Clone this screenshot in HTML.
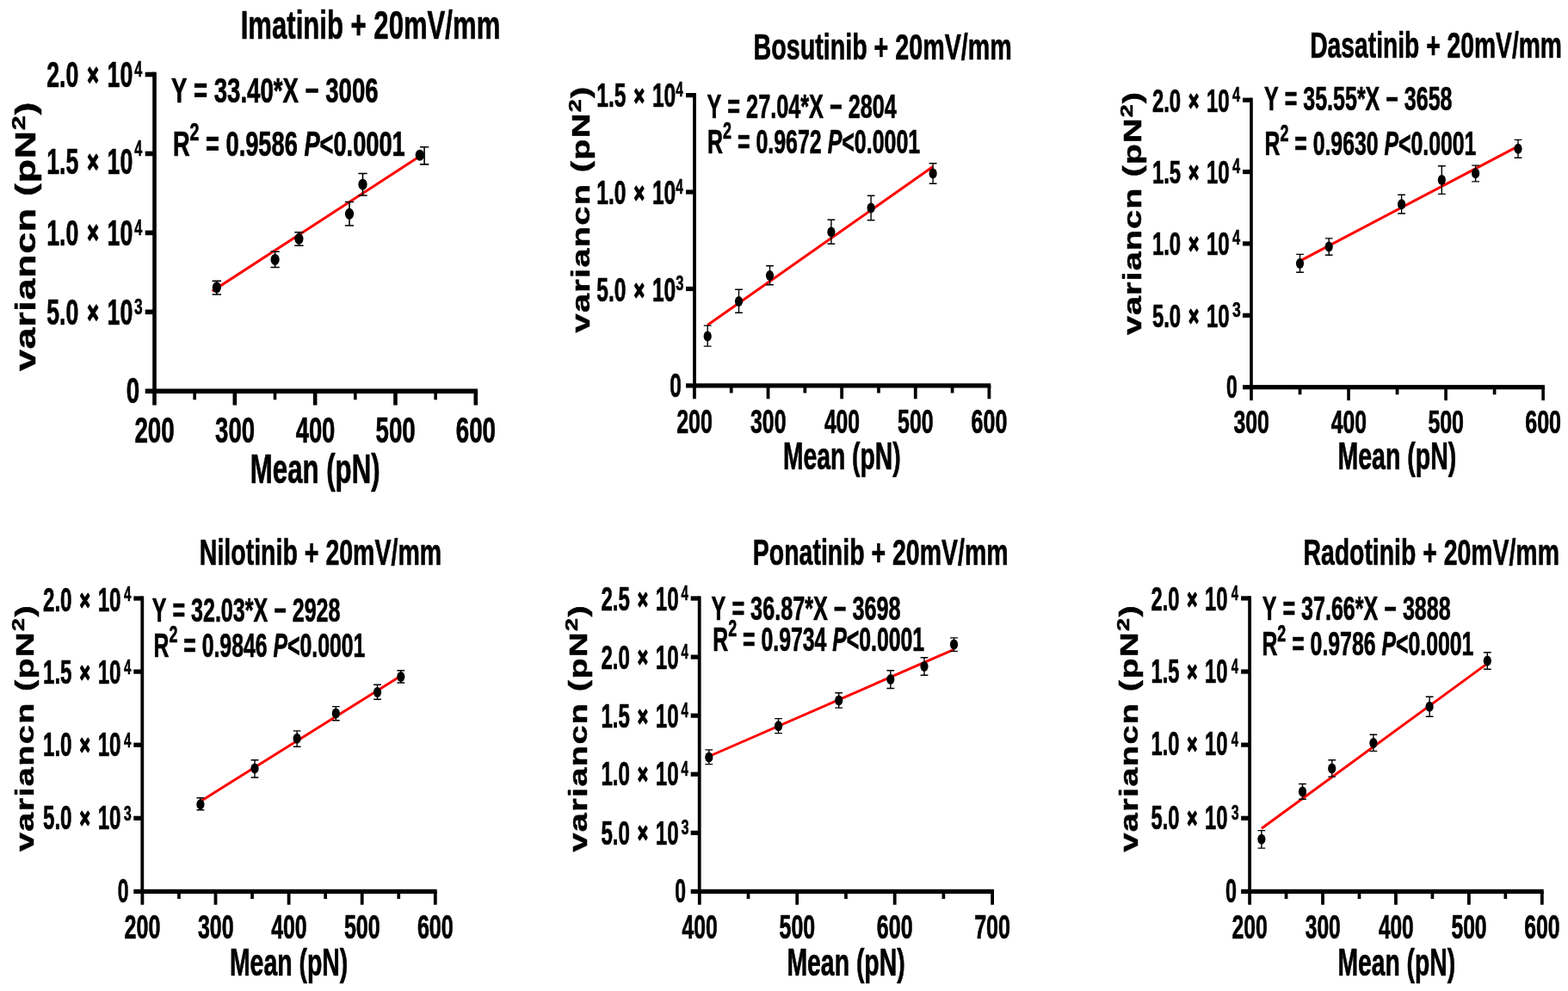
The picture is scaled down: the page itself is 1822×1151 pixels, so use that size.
<!DOCTYPE html>
<html lang="en"><head><meta charset="utf-8"><title>Mean-variance plots</title>
<style>
html,body{margin:0;padding:0;background:#fff;}
body{width:1822px;height:1151px;overflow:hidden;}
svg{display:block;}
text{font-family:"Liberation Sans",Arial,Helvetica,sans-serif;font-weight:bold;fill:#000;font-kerning:none;white-space:pre;stroke-linejoin:round;}
</style></head><body>
<svg width="1822" height="1151" viewBox="0 0 1822 1151">
<rect x="0" y="0" width="1822" height="1151" fill="#fff"/>
<g>
<!-- Imatinib + 20mV/mm -->
<line x1="246.60" y1="338.20" x2="488.50" y2="181.00" stroke="#f00" stroke-width="3.00"/>
<path d="M246.60 326.40H257.00M246.60 342.00H257.00M251.80 326.40V342.00" stroke="#000" stroke-width="1.60" fill="none"/>
<ellipse cx="251.80" cy="333.80" rx="5.10" ry="6.50" fill="#000"/>
<path d="M314.40 292.30H324.80M314.40 310.50H324.80M319.60 292.30V310.50" stroke="#000" stroke-width="1.60" fill="none"/>
<ellipse cx="319.60" cy="301.40" rx="5.10" ry="6.50" fill="#000"/>
<path d="M342.20 269.80H352.60M342.20 285.30H352.60M347.40 269.80V285.30" stroke="#000" stroke-width="1.60" fill="none"/>
<ellipse cx="347.40" cy="277.30" rx="5.10" ry="6.50" fill="#000"/>
<path d="M400.80 234.50H411.20M400.80 262.00H411.20M406.00 234.50V262.00" stroke="#000" stroke-width="1.60" fill="none"/>
<ellipse cx="406.00" cy="248.30" rx="5.10" ry="6.50" fill="#000"/>
<path d="M416.30 201.50H426.70M416.30 227.00H426.70M421.50 201.50V227.00" stroke="#000" stroke-width="1.60" fill="none"/>
<ellipse cx="421.50" cy="214.20" rx="5.10" ry="6.50" fill="#000"/>
<path d="M487.90 170.80H498.30M487.90 190.90H498.30M493.10 170.80V190.90" stroke="#000" stroke-width="1.60" fill="none"/>
<ellipse cx="487.80" cy="180.20" rx="5.10" ry="6.50" fill="#000"/>
<rect x="177.20" y="83.70" width="4.60" height="373.40" fill="#000"/>
<rect x="168.70" y="451.50" width="386.40" height="5.60" fill="#000"/>
<rect x="168.70" y="83.70" width="10.80" height="5.60" fill="#000"/>
<rect x="168.70" y="175.65" width="10.80" height="5.60" fill="#000"/>
<rect x="168.70" y="267.60" width="10.80" height="5.60" fill="#000"/>
<rect x="168.70" y="359.55" width="10.80" height="5.60" fill="#000"/>
<rect x="177.20" y="454.30" width="4.60" height="16.30" fill="#000"/>
<rect x="270.52" y="454.30" width="4.60" height="16.30" fill="#000"/>
<rect x="363.85" y="454.30" width="4.60" height="16.30" fill="#000"/>
<rect x="457.17" y="454.30" width="4.60" height="16.30" fill="#000"/>
<rect x="550.50" y="454.30" width="4.60" height="16.30" fill="#000"/>
<rect x="224.36" y="454.30" width="3.60" height="10.00" fill="#000"/>
<rect x="317.69" y="454.30" width="3.60" height="10.00" fill="#000"/>
<rect x="411.01" y="454.30" width="3.60" height="10.00" fill="#000"/>
<rect x="504.34" y="454.30" width="3.60" height="10.00" fill="#000"/>
<text transform="translate(156.45,513.83) scale(0.6590,1)" font-size="42.09" stroke="#000" stroke-width="0.70">200</text>
<text transform="translate(250.10,513.83) scale(0.6542,1)" font-size="42.09" stroke="#000" stroke-width="0.70">300</text>
<text transform="translate(343.65,513.83) scale(0.6510,1)" font-size="42.09" stroke="#000" stroke-width="0.70">400</text>
<text transform="translate(436.53,513.83) scale(0.6574,1)" font-size="42.09" stroke="#000" stroke-width="0.70">500</text>
<text transform="translate(529.69,513.83) scale(0.6598,1)" font-size="42.09" stroke="#000" stroke-width="0.70">600</text>
<text transform="translate(54.29,100.88) scale(0.6338,1)" font-size="42.09" word-spacing="4.209" stroke="#000" stroke-width="0.70"><tspan>2.0 </tspan><tspan stroke-width="2.1" font-size="35.36" dy="-2.31">×</tspan><tspan dy="2.31"> 10</tspan></text>
<text transform="translate(156.22,89.22) scale(0.6111,1)" font-size="26.47" stroke="#000" stroke-width="0.56">4</text>
<text transform="translate(54.29,202.48) scale(0.6338,1)" font-size="42.09" word-spacing="4.209" stroke="#000" stroke-width="0.70"><tspan>1.5 </tspan><tspan stroke-width="2.1" font-size="35.36" dy="-2.31">×</tspan><tspan dy="2.31"> 10</tspan></text>
<text transform="translate(156.22,181.17) scale(0.6111,1)" font-size="26.47" stroke="#000" stroke-width="0.56">4</text>
<text transform="translate(54.29,284.68) scale(0.6338,1)" font-size="42.09" word-spacing="4.209" stroke="#000" stroke-width="0.70"><tspan>1.0 </tspan><tspan stroke-width="2.1" font-size="35.36" dy="-2.31">×</tspan><tspan dy="2.31"> 10</tspan></text>
<text transform="translate(156.22,273.12) scale(0.6111,1)" font-size="26.47" stroke="#000" stroke-width="0.56">4</text>
<text transform="translate(54.29,376.98) scale(0.6338,1)" font-size="42.09" word-spacing="4.209" stroke="#000" stroke-width="0.70"><tspan>5.0 </tspan><tspan stroke-width="2.1" font-size="35.36" dy="-2.31">×</tspan><tspan dy="2.31"> 10</tspan></text>
<text transform="translate(156.07,365.07) scale(0.6585,1)" font-size="26.47" stroke="#000" stroke-width="0.56">3</text>
<text transform="translate(146.81,468.48) scale(0.6584,1)" font-size="42.09" stroke="#000" stroke-width="0.70">0</text>
<text transform="translate(290.82,560.65) scale(0.6546,1)" font-size="47.67" stroke="#000" stroke-width="0.70">Mean (pN)</text>
<text transform="translate(279.73,44.55) scale(0.6647,1)" font-size="46.80" stroke="#000" stroke-width="0.70">Imatinib + 20mV/mm</text>
<text transform="translate(198.94,119.35) scale(0.6755,1)" font-size="40.84" stroke="#000" stroke-width="0.70">Y = 33.40*X − 3006</text>
<text transform="translate(200.89,180.55) scale(0.6671,1)" font-size="40.84" stroke="#000" stroke-width="0.70"><tspan>R</tspan><tspan font-size="29.41" dy="-17.56">2</tspan><tspan dy="17.56"> = 0.9586 </tspan><tspan font-style="italic">P</tspan><tspan>&lt;0.0001</tspan></text>
<text transform="translate(41.20,431.02) rotate(-90) scale(1.3600,1)" font-size="32.85" letter-spacing="0.567" stroke="#000" stroke-width="0.50"><tspan>variancn (pN</tspan><tspan font-size="22.34" dy="-11.83">2</tspan><tspan dy="11.83">)</tspan></text>
</g>
<g>
<!-- Bosutinib + 20mV/mm -->
<line x1="822.20" y1="377.60" x2="1084.10" y2="193.50" stroke="#f00" stroke-width="3.00"/>
<path d="M817.80 378.10H826.60M817.80 402.10H826.60M822.20 378.10V402.10" stroke="#000" stroke-width="1.40" fill="none"/>
<ellipse cx="822.20" cy="390.60" rx="4.60" ry="6.00" fill="#000"/>
<path d="M854.10 336.30H862.90M854.10 363.30H862.90M858.50 336.30V363.30" stroke="#000" stroke-width="1.40" fill="none"/>
<ellipse cx="858.50" cy="350.10" rx="4.60" ry="6.00" fill="#000"/>
<path d="M890.10 308.80H898.90M890.10 330.80H898.90M894.50 308.80V330.80" stroke="#000" stroke-width="1.40" fill="none"/>
<ellipse cx="894.50" cy="320.00" rx="4.60" ry="6.00" fill="#000"/>
<path d="M961.50 255.30H970.30M961.50 283.30H970.30M965.90 255.30V283.30" stroke="#000" stroke-width="1.40" fill="none"/>
<ellipse cx="965.90" cy="269.50" rx="4.60" ry="6.00" fill="#000"/>
<path d="M1007.70 227.20H1016.50M1007.70 255.80H1016.50M1012.10 227.20V255.80" stroke="#000" stroke-width="1.40" fill="none"/>
<ellipse cx="1012.10" cy="241.60" rx="4.60" ry="6.00" fill="#000"/>
<path d="M1079.70 189.70H1088.50M1079.70 213.20H1088.50M1084.10 189.70V213.20" stroke="#000" stroke-width="1.40" fill="none"/>
<ellipse cx="1084.10" cy="201.50" rx="4.60" ry="6.00" fill="#000"/>
<rect x="805.10" y="108.00" width="3.80" height="342.50" fill="#000"/>
<rect x="797.00" y="445.30" width="354.30" height="5.20" fill="#000"/>
<rect x="797.00" y="108.00" width="10.00" height="5.20" fill="#000"/>
<rect x="797.00" y="220.43" width="10.00" height="5.20" fill="#000"/>
<rect x="797.00" y="332.87" width="10.00" height="5.20" fill="#000"/>
<rect x="805.00" y="447.90" width="3.80" height="15.40" fill="#000"/>
<rect x="890.62" y="447.90" width="3.80" height="15.40" fill="#000"/>
<rect x="976.25" y="447.90" width="3.80" height="15.40" fill="#000"/>
<rect x="1061.88" y="447.90" width="3.80" height="15.40" fill="#000"/>
<rect x="1147.50" y="447.90" width="3.80" height="15.40" fill="#000"/>
<rect x="847.86" y="447.90" width="3.70" height="8.60" fill="#000"/>
<rect x="933.49" y="447.90" width="3.70" height="8.60" fill="#000"/>
<rect x="1019.11" y="447.90" width="3.70" height="8.60" fill="#000"/>
<rect x="1104.74" y="447.90" width="3.70" height="8.60" fill="#000"/>
<text transform="translate(786.14,502.57) scale(0.6525,1)" font-size="38.28" stroke="#000" stroke-width="0.70">200</text>
<text transform="translate(872.07,502.57) scale(0.6477,1)" font-size="38.28" stroke="#000" stroke-width="0.70">300</text>
<text transform="translate(957.89,502.57) scale(0.6446,1)" font-size="38.28" stroke="#000" stroke-width="0.70">400</text>
<text transform="translate(1043.12,502.57) scale(0.6509,1)" font-size="38.28" stroke="#000" stroke-width="0.70">500</text>
<text transform="translate(1128.59,502.57) scale(0.6533,1)" font-size="38.28" stroke="#000" stroke-width="0.70">600</text>
<text transform="translate(693.25,124.47) scale(0.6415,1)" font-size="38.28" word-spacing="3.828" stroke="#000" stroke-width="0.70"><tspan>1.5 </tspan><tspan stroke-width="2.1" font-size="32.15" dy="-2.11">×</tspan><tspan dy="2.11"> 10</tspan></text>
<text transform="translate(785.33,112.32) scale(0.6410,1)" font-size="24.07" stroke="#000" stroke-width="0.56">4</text>
<text transform="translate(693.25,237.47) scale(0.6415,1)" font-size="38.28" word-spacing="3.828" stroke="#000" stroke-width="0.70"><tspan>1.0 </tspan><tspan stroke-width="2.1" font-size="32.15" dy="-2.11">×</tspan><tspan dy="2.11"> 10</tspan></text>
<text transform="translate(785.33,224.75) scale(0.6410,1)" font-size="24.07" stroke="#000" stroke-width="0.56">4</text>
<text transform="translate(693.25,349.87) scale(0.6415,1)" font-size="38.28" word-spacing="3.828" stroke="#000" stroke-width="0.70"><tspan>5.0 </tspan><tspan stroke-width="2.1" font-size="32.15" dy="-2.11">×</tspan><tspan dy="2.11"> 10</tspan></text>
<text transform="translate(785.19,337.19) scale(0.6908,1)" font-size="24.07" stroke="#000" stroke-width="0.56">3</text>
<text transform="translate(778.15,461.17) scale(0.6361,1)" font-size="38.28" stroke="#000" stroke-width="0.70">0</text>
<text transform="translate(909.92,544.95) scale(0.6507,1)" font-size="43.46" stroke="#000" stroke-width="0.70">Mean (pN)</text>
<text transform="translate(875.49,68.65) scale(0.6686,1)" font-size="42.88" stroke="#000" stroke-width="0.70">Bosutinib + 20mV/mm</text>
<text transform="translate(821.48,137.15) scale(0.6507,1)" font-size="38.81" stroke="#000" stroke-width="0.70">Y = 27.04*X − 2804</text>
<text transform="translate(822.04,177.85) scale(0.6427,1)" font-size="38.81" stroke="#000" stroke-width="0.70"><tspan>R</tspan><tspan font-size="27.94" dy="-16.69">2</tspan><tspan dy="16.69"> = 0.9672 </tspan><tspan font-style="italic">P</tspan><tspan>&lt;0.0001</tspan></text>
<text transform="translate(685.40,386.40) rotate(-90) scale(1.3600,1)" font-size="29.07" letter-spacing="1.020" stroke="#000" stroke-width="0.50"><tspan>variancn (pN</tspan><tspan font-size="19.77" dy="-10.47">2</tspan><tspan dy="10.47">)</tspan></text>
</g>
<g>
<!-- Dasatinib + 20mV/mm -->
<line x1="1510.50" y1="303.10" x2="1764.00" y2="169.80" stroke="#f00" stroke-width="3.00"/>
<path d="M1506.10 295.40H1514.90M1506.10 316.20H1514.90M1510.50 295.40V316.20" stroke="#000" stroke-width="1.40" fill="none"/>
<ellipse cx="1510.50" cy="306.10" rx="4.60" ry="6.00" fill="#000"/>
<path d="M1539.80 276.90H1548.60M1539.80 296.20H1548.60M1544.20 276.90V296.20" stroke="#000" stroke-width="1.40" fill="none"/>
<ellipse cx="1544.20" cy="286.40" rx="4.60" ry="6.00" fill="#000"/>
<path d="M1624.20 226.30H1633.00M1624.20 248.00H1633.00M1628.60 226.30V248.00" stroke="#000" stroke-width="1.40" fill="none"/>
<ellipse cx="1628.60" cy="237.30" rx="4.60" ry="6.00" fill="#000"/>
<path d="M1670.90 192.70H1679.70M1670.90 225.40H1679.70M1675.30 192.70V225.40" stroke="#000" stroke-width="1.40" fill="none"/>
<ellipse cx="1675.30" cy="209.10" rx="4.60" ry="6.00" fill="#000"/>
<path d="M1710.20 192.10H1719.00M1710.20 210.90H1719.00M1714.60 192.10V210.90" stroke="#000" stroke-width="1.40" fill="none"/>
<ellipse cx="1714.60" cy="201.30" rx="4.60" ry="6.00" fill="#000"/>
<path d="M1759.60 162.40H1768.40M1759.60 183.20H1768.40M1764.00 162.40V183.20" stroke="#000" stroke-width="1.40" fill="none"/>
<ellipse cx="1764.00" cy="172.80" rx="4.60" ry="6.00" fill="#000"/>
<rect x="1452.20" y="113.60" width="3.60" height="338.70" fill="#000"/>
<rect x="1444.00" y="447.10" width="350.90" height="5.20" fill="#000"/>
<rect x="1444.00" y="113.60" width="10.00" height="5.20" fill="#000"/>
<rect x="1444.00" y="196.97" width="10.00" height="5.20" fill="#000"/>
<rect x="1444.00" y="280.35" width="10.00" height="5.20" fill="#000"/>
<rect x="1444.00" y="363.72" width="10.00" height="5.20" fill="#000"/>
<rect x="1452.20" y="449.70" width="3.60" height="15.40" fill="#000"/>
<rect x="1565.23" y="449.70" width="3.60" height="15.40" fill="#000"/>
<rect x="1678.27" y="449.70" width="3.60" height="15.40" fill="#000"/>
<rect x="1791.30" y="449.70" width="3.60" height="15.40" fill="#000"/>
<rect x="1508.67" y="449.70" width="3.70" height="8.60" fill="#000"/>
<rect x="1621.70" y="449.70" width="3.70" height="8.60" fill="#000"/>
<rect x="1734.73" y="449.70" width="3.70" height="8.60" fill="#000"/>
<text transform="translate(1433.54,502.98) scale(0.6674,1)" font-size="37.15" stroke="#000" stroke-width="0.70">300</text>
<text transform="translate(1546.77,502.98) scale(0.6642,1)" font-size="37.15" stroke="#000" stroke-width="0.70">400</text>
<text transform="translate(1659.41,502.98) scale(0.6707,1)" font-size="37.15" stroke="#000" stroke-width="0.70">500</text>
<text transform="translate(1772.29,502.98) scale(0.6732,1)" font-size="37.15" stroke="#000" stroke-width="0.70">600</text>
<text transform="translate(1338.88,129.78) scale(0.6441,1)" font-size="37.15" word-spacing="3.715" stroke="#000" stroke-width="0.70"><tspan>2.0 </tspan><tspan stroke-width="2.1" font-size="31.20" dy="-2.04">×</tspan><tspan dy="2.04"> 10</tspan></text>
<text transform="translate(1432.12,117.72) scale(0.6798,1)" font-size="24.07" stroke="#000" stroke-width="0.56">4</text>
<text transform="translate(1338.88,213.08) scale(0.6441,1)" font-size="37.15" word-spacing="3.715" stroke="#000" stroke-width="0.70"><tspan>1.5 </tspan><tspan stroke-width="2.1" font-size="31.20" dy="-2.04">×</tspan><tspan dy="2.04"> 10</tspan></text>
<text transform="translate(1432.12,201.09) scale(0.6798,1)" font-size="24.07" stroke="#000" stroke-width="0.56">4</text>
<text transform="translate(1338.88,296.28) scale(0.6441,1)" font-size="37.15" word-spacing="3.715" stroke="#000" stroke-width="0.70"><tspan>1.0 </tspan><tspan stroke-width="2.1" font-size="31.20" dy="-2.04">×</tspan><tspan dy="2.04"> 10</tspan></text>
<text transform="translate(1432.12,284.47) scale(0.6798,1)" font-size="24.07" stroke="#000" stroke-width="0.56">4</text>
<text transform="translate(1338.88,379.78) scale(0.6441,1)" font-size="37.15" word-spacing="3.715" stroke="#000" stroke-width="0.70"><tspan>5.0 </tspan><tspan stroke-width="2.1" font-size="31.20" dy="-2.04">×</tspan><tspan dy="2.04"> 10</tspan></text>
<text transform="translate(1431.96,367.85) scale(0.7326,1)" font-size="24.07" stroke="#000" stroke-width="0.56">3</text>
<text transform="translate(1425.11,462.18) scale(0.6159,1)" font-size="37.15" stroke="#000" stroke-width="0.70">0</text>
<text transform="translate(1554.40,544.95) scale(0.6566,1)" font-size="43.46" stroke="#000" stroke-width="0.70">Mean (pN)</text>
<text transform="translate(1522.22,67.35) scale(0.6589,1)" font-size="42.88" stroke="#000" stroke-width="0.70">Dasatinib + 20mV/mm</text>
<text transform="translate(1469.08,127.85) scale(0.6449,1)" font-size="38.81" stroke="#000" stroke-width="0.70">Y = 35.55*X − 3658</text>
<text transform="translate(1469.55,180.45) scale(0.6393,1)" font-size="38.81" stroke="#000" stroke-width="0.70"><tspan>R</tspan><tspan font-size="27.94" dy="-16.69">2</tspan><tspan dy="16.69"> = 0.9630 </tspan><tspan font-style="italic">P</tspan><tspan>&lt;0.0001</tspan></text>
<text transform="translate(1326.30,389.10) rotate(-90) scale(1.3600,1)" font-size="29.07" letter-spacing="0.822" stroke="#000" stroke-width="0.50"><tspan>variancn (pN</tspan><tspan font-size="19.77" dy="-10.47">2</tspan><tspan dy="10.47">)</tspan></text>
</g>
<g>
<!-- Nilotinib + 20mV/mm -->
<line x1="232.90" y1="930.70" x2="465.80" y2="784.90" stroke="#f00" stroke-width="3.00"/>
<path d="M228.50 926.80H237.30M228.50 940.80H237.30M232.90 926.80V940.80" stroke="#000" stroke-width="1.40" fill="none"/>
<ellipse cx="232.90" cy="934.20" rx="4.60" ry="6.00" fill="#000"/>
<path d="M291.60 882.80H300.40M291.60 903.00H300.40M296.00 882.80V903.00" stroke="#000" stroke-width="1.40" fill="none"/>
<ellipse cx="296.00" cy="892.60" rx="4.60" ry="6.00" fill="#000"/>
<path d="M340.70 848.90H349.50M340.70 867.30H349.50M345.10 848.90V867.30" stroke="#000" stroke-width="1.40" fill="none"/>
<ellipse cx="345.10" cy="857.80" rx="4.60" ry="6.00" fill="#000"/>
<path d="M385.90 820.60H394.70M385.90 836.70H394.70M390.30 820.60V836.70" stroke="#000" stroke-width="1.40" fill="none"/>
<ellipse cx="390.30" cy="828.60" rx="4.60" ry="6.00" fill="#000"/>
<path d="M434.10 795.30H442.90M434.10 812.30H442.90M438.50 795.30V812.30" stroke="#000" stroke-width="1.40" fill="none"/>
<ellipse cx="438.50" cy="804.00" rx="4.60" ry="6.00" fill="#000"/>
<path d="M461.40 778.70H470.20M461.40 793.00H470.20M465.80 778.70V793.00" stroke="#000" stroke-width="1.40" fill="none"/>
<ellipse cx="465.80" cy="786.10" rx="4.60" ry="6.00" fill="#000"/>
<rect x="163.40" y="692.40" width="3.80" height="345.60" fill="#000"/>
<rect x="155.30" y="1032.80" width="352.40" height="5.20" fill="#000"/>
<rect x="155.30" y="692.40" width="10.00" height="5.20" fill="#000"/>
<rect x="155.30" y="777.50" width="10.00" height="5.20" fill="#000"/>
<rect x="155.30" y="862.60" width="10.00" height="5.20" fill="#000"/>
<rect x="155.30" y="947.70" width="10.00" height="5.20" fill="#000"/>
<rect x="163.50" y="1035.40" width="3.80" height="15.40" fill="#000"/>
<rect x="248.60" y="1035.40" width="3.80" height="15.40" fill="#000"/>
<rect x="333.70" y="1035.40" width="3.80" height="15.40" fill="#000"/>
<rect x="418.80" y="1035.40" width="3.80" height="15.40" fill="#000"/>
<rect x="503.90" y="1035.40" width="3.80" height="15.40" fill="#000"/>
<rect x="206.10" y="1035.40" width="3.70" height="8.60" fill="#000"/>
<rect x="291.20" y="1035.40" width="3.70" height="8.60" fill="#000"/>
<rect x="376.30" y="1035.40" width="3.70" height="8.60" fill="#000"/>
<rect x="461.40" y="1035.40" width="3.70" height="8.60" fill="#000"/>
<text transform="translate(144.54,1089.97) scale(0.6558,1)" font-size="38.28" stroke="#000" stroke-width="0.70">200</text>
<text transform="translate(229.94,1089.97) scale(0.6510,1)" font-size="38.28" stroke="#000" stroke-width="0.70">300</text>
<text transform="translate(315.23,1089.97) scale(0.6478,1)" font-size="38.28" stroke="#000" stroke-width="0.70">400</text>
<text transform="translate(399.94,1089.97) scale(0.6542,1)" font-size="38.28" stroke="#000" stroke-width="0.70">500</text>
<text transform="translate(484.89,1089.97) scale(0.6566,1)" font-size="38.28" stroke="#000" stroke-width="0.70">600</text>
<text transform="translate(49.97,709.77) scale(0.6315,1)" font-size="38.28" word-spacing="3.828" stroke="#000" stroke-width="0.70"><tspan>2.0 </tspan><tspan stroke-width="2.1" font-size="32.15" dy="-2.11">×</tspan><tspan dy="2.11"> 10</tspan></text>
<text transform="translate(143.94,697.72) scale(0.6255,1)" font-size="24.07" stroke="#000" stroke-width="0.56">4</text>
<text transform="translate(49.97,793.77) scale(0.6315,1)" font-size="38.28" word-spacing="3.828" stroke="#000" stroke-width="0.70"><tspan>1.5 </tspan><tspan stroke-width="2.1" font-size="32.15" dy="-2.11">×</tspan><tspan dy="2.11"> 10</tspan></text>
<text transform="translate(143.94,782.82) scale(0.6255,1)" font-size="24.07" stroke="#000" stroke-width="0.56">4</text>
<text transform="translate(49.97,877.67) scale(0.6315,1)" font-size="38.28" word-spacing="3.828" stroke="#000" stroke-width="0.70"><tspan>1.0 </tspan><tspan stroke-width="2.1" font-size="32.15" dy="-2.11">×</tspan><tspan dy="2.11"> 10</tspan></text>
<text transform="translate(143.94,867.92) scale(0.6255,1)" font-size="24.07" stroke="#000" stroke-width="0.56">4</text>
<text transform="translate(49.97,963.17) scale(0.6315,1)" font-size="38.28" word-spacing="3.828" stroke="#000" stroke-width="0.70"><tspan>5.0 </tspan><tspan stroke-width="2.1" font-size="32.15" dy="-2.11">×</tspan><tspan dy="2.11"> 10</tspan></text>
<text transform="translate(143.80,953.02) scale(0.6741,1)" font-size="24.07" stroke="#000" stroke-width="0.56">3</text>
<text transform="translate(136.71,1048.37) scale(0.5977,1)" font-size="38.28" stroke="#000" stroke-width="0.70">0</text>
<text transform="translate(266.91,1133.45) scale(0.6542,1)" font-size="43.46" stroke="#000" stroke-width="0.70">Mean (pN)</text>
<text transform="translate(231.80,656.05) scale(0.6655,1)" font-size="42.88" stroke="#000" stroke-width="0.70">Nilotinib + 20mV/mm</text>
<text transform="translate(176.78,722.25) scale(0.6458,1)" font-size="38.81" stroke="#000" stroke-width="0.70">Y = 32.03*X − 2928</text>
<text transform="translate(178.55,762.65) scale(0.6393,1)" font-size="38.81" stroke="#000" stroke-width="0.70"><tspan>R</tspan><tspan font-size="27.94" dy="-16.69">2</tspan><tspan dy="16.69"> = 0.9846 </tspan><tspan font-style="italic">P</tspan><tspan>&lt;0.0001</tspan></text>
<text transform="translate(38.70,989.00) rotate(-90) scale(1.3600,1)" font-size="29.07" letter-spacing="1.020" stroke="#000" stroke-width="0.50"><tspan>variancn (pN</tspan><tspan font-size="19.77" dy="-10.47">2</tspan><tspan dy="10.47">)</tspan></text>
</g>
<g>
<!-- Ponatinib + 20mV/mm -->
<line x1="823.80" y1="878.50" x2="1108.50" y2="754.30" stroke="#f00" stroke-width="3.00"/>
<path d="M819.40 870.90H828.20M819.40 887.60H828.20M823.80 870.90V887.60" stroke="#000" stroke-width="1.40" fill="none"/>
<ellipse cx="823.80" cy="879.50" rx="4.60" ry="6.00" fill="#000"/>
<path d="M900.10 834.60H908.90M900.10 851.60H908.90M904.50 834.60V851.60" stroke="#000" stroke-width="1.40" fill="none"/>
<ellipse cx="904.50" cy="843.20" rx="4.60" ry="6.00" fill="#000"/>
<path d="M970.30 804.80H979.10M970.30 822.10H979.10M974.70 804.80V822.10" stroke="#000" stroke-width="1.40" fill="none"/>
<ellipse cx="974.70" cy="813.50" rx="4.60" ry="6.00" fill="#000"/>
<path d="M1030.40 778.70H1039.20M1030.40 799.50H1039.20M1034.80 778.70V799.50" stroke="#000" stroke-width="1.40" fill="none"/>
<ellipse cx="1034.80" cy="789.10" rx="4.60" ry="6.00" fill="#000"/>
<path d="M1069.60 763.80H1078.40M1069.60 784.30H1078.40M1074.00 763.80V784.30" stroke="#000" stroke-width="1.40" fill="none"/>
<ellipse cx="1074.00" cy="773.90" rx="4.60" ry="6.00" fill="#000"/>
<path d="M1104.10 740.90H1112.90M1104.10 756.40H1112.90M1108.50 740.90V756.40" stroke="#000" stroke-width="1.40" fill="none"/>
<ellipse cx="1108.50" cy="748.60" rx="4.60" ry="6.00" fill="#000"/>
<rect x="810.80" y="692.40" width="3.80" height="345.60" fill="#000"/>
<rect x="802.70" y="1032.80" width="352.30" height="5.20" fill="#000"/>
<rect x="802.70" y="692.40" width="10.00" height="5.20" fill="#000"/>
<rect x="802.70" y="760.48" width="10.00" height="5.20" fill="#000"/>
<rect x="802.70" y="828.56" width="10.00" height="5.20" fill="#000"/>
<rect x="802.70" y="896.64" width="10.00" height="5.20" fill="#000"/>
<rect x="802.70" y="964.72" width="10.00" height="5.20" fill="#000"/>
<rect x="810.90" y="1035.40" width="3.80" height="15.40" fill="#000"/>
<rect x="924.33" y="1035.40" width="3.80" height="15.40" fill="#000"/>
<rect x="1037.77" y="1035.40" width="3.80" height="15.40" fill="#000"/>
<rect x="1151.20" y="1035.40" width="3.80" height="15.40" fill="#000"/>
<rect x="867.67" y="1035.40" width="3.70" height="8.60" fill="#000"/>
<rect x="981.10" y="1035.40" width="3.70" height="8.60" fill="#000"/>
<rect x="1094.53" y="1035.40" width="3.70" height="8.60" fill="#000"/>
<text transform="translate(792.54,1089.97) scale(0.6446,1)" font-size="38.28" stroke="#000" stroke-width="0.70">400</text>
<text transform="translate(905.58,1089.97) scale(0.6509,1)" font-size="38.28" stroke="#000" stroke-width="0.70">500</text>
<text transform="translate(1018.86,1089.97) scale(0.6533,1)" font-size="38.28" stroke="#000" stroke-width="0.70">600</text>
<text transform="translate(1132.13,1089.97) scale(0.6559,1)" font-size="38.28" stroke="#000" stroke-width="0.70">700</text>
<text transform="translate(698.38,709.37) scale(0.6286,1)" font-size="38.28" word-spacing="3.828" stroke="#000" stroke-width="0.70"><tspan>2.5 </tspan><tspan stroke-width="2.1" font-size="32.15" dy="-2.11">×</tspan><tspan dy="2.11"> 10</tspan></text>
<text transform="translate(791.54,696.72) scale(0.6255,1)" font-size="24.07" stroke="#000" stroke-width="0.56">4</text>
<text transform="translate(698.38,776.57) scale(0.6286,1)" font-size="38.28" word-spacing="3.828" stroke="#000" stroke-width="0.70"><tspan>2.0 </tspan><tspan stroke-width="2.1" font-size="32.15" dy="-2.11">×</tspan><tspan dy="2.11"> 10</tspan></text>
<text transform="translate(791.54,764.80) scale(0.6255,1)" font-size="24.07" stroke="#000" stroke-width="0.56">4</text>
<text transform="translate(698.38,844.77) scale(0.6286,1)" font-size="38.28" word-spacing="3.828" stroke="#000" stroke-width="0.70"><tspan>1.5 </tspan><tspan stroke-width="2.1" font-size="32.15" dy="-2.11">×</tspan><tspan dy="2.11"> 10</tspan></text>
<text transform="translate(791.54,832.88) scale(0.6255,1)" font-size="24.07" stroke="#000" stroke-width="0.56">4</text>
<text transform="translate(698.38,912.17) scale(0.6286,1)" font-size="38.28" word-spacing="3.828" stroke="#000" stroke-width="0.70"><tspan>1.0 </tspan><tspan stroke-width="2.1" font-size="32.15" dy="-2.11">×</tspan><tspan dy="2.11"> 10</tspan></text>
<text transform="translate(791.54,900.96) scale(0.6255,1)" font-size="24.07" stroke="#000" stroke-width="0.56">4</text>
<text transform="translate(698.38,980.57) scale(0.6286,1)" font-size="38.28" word-spacing="3.828" stroke="#000" stroke-width="0.70"><tspan>5.0 </tspan><tspan stroke-width="2.1" font-size="32.15" dy="-2.11">×</tspan><tspan dy="2.11"> 10</tspan></text>
<text transform="translate(791.40,969.04) scale(0.6741,1)" font-size="24.07" stroke="#000" stroke-width="0.56">3</text>
<text transform="translate(784.21,1048.37) scale(0.5977,1)" font-size="38.28" stroke="#000" stroke-width="0.70">0</text>
<text transform="translate(914.41,1133.45) scale(0.6537,1)" font-size="43.46" stroke="#000" stroke-width="0.70">Mean (pN)</text>
<text transform="translate(874.80,655.55) scale(0.6645,1)" font-size="42.88" stroke="#000" stroke-width="0.70">Ponatinib + 20mV/mm</text>
<text transform="translate(826.58,720.35) scale(0.6497,1)" font-size="38.81" stroke="#000" stroke-width="0.70">Y = 36.87*X − 3698</text>
<text transform="translate(828.35,755.65) scale(0.6393,1)" font-size="38.81" stroke="#000" stroke-width="0.70"><tspan>R</tspan><tspan font-size="27.94" dy="-16.69">2</tspan><tspan dy="16.69"> = 0.9734 </tspan><tspan font-style="italic">P</tspan><tspan>&lt;0.0001</tspan></text>
<text transform="translate(681.80,989.60) rotate(-90) scale(1.3600,1)" font-size="29.07" letter-spacing="1.054" stroke="#000" stroke-width="0.50"><tspan>variancn (pN</tspan><tspan font-size="19.77" dy="-10.47">2</tspan><tspan dy="10.47">)</tspan></text>
</g>
<g>
<!-- Radotinib + 20mV/mm -->
<line x1="1465.90" y1="962.20" x2="1728.30" y2="770.60" stroke="#f00" stroke-width="3.00"/>
<path d="M1461.50 964.60H1470.30M1461.50 985.10H1470.30M1465.90 964.60V985.10" stroke="#000" stroke-width="1.40" fill="none"/>
<ellipse cx="1465.90" cy="974.70" rx="4.60" ry="6.00" fill="#000"/>
<path d="M1509.10 910.50H1517.90M1509.10 928.30H1517.90M1513.50 910.50V928.30" stroke="#000" stroke-width="1.40" fill="none"/>
<ellipse cx="1513.50" cy="919.50" rx="4.60" ry="6.00" fill="#000"/>
<path d="M1543.30 882.80H1552.10M1543.30 902.10H1552.10M1547.70 882.80V902.10" stroke="#000" stroke-width="1.40" fill="none"/>
<ellipse cx="1547.70" cy="892.60" rx="4.60" ry="6.00" fill="#000"/>
<path d="M1591.50 853.30H1600.30M1591.50 872.40H1600.30M1595.90 853.30V872.40" stroke="#000" stroke-width="1.40" fill="none"/>
<ellipse cx="1595.90" cy="862.90" rx="4.60" ry="6.00" fill="#000"/>
<path d="M1656.70 809.30H1665.50M1656.70 832.20H1665.50M1661.10 809.30V832.20" stroke="#000" stroke-width="1.40" fill="none"/>
<ellipse cx="1661.10" cy="820.70" rx="4.60" ry="6.00" fill="#000"/>
<path d="M1723.90 757.80H1732.70M1723.90 777.20H1732.70M1728.30 757.80V777.20" stroke="#000" stroke-width="1.40" fill="none"/>
<ellipse cx="1728.30" cy="767.40" rx="4.60" ry="6.00" fill="#000"/>
<rect x="1450.20" y="692.30" width="3.80" height="345.70" fill="#000"/>
<rect x="1442.10" y="1032.80" width="351.60" height="5.20" fill="#000"/>
<rect x="1442.10" y="692.30" width="10.00" height="5.20" fill="#000"/>
<rect x="1442.10" y="777.42" width="10.00" height="5.20" fill="#000"/>
<rect x="1442.10" y="862.55" width="10.00" height="5.20" fill="#000"/>
<rect x="1442.10" y="947.68" width="10.00" height="5.20" fill="#000"/>
<rect x="1450.20" y="1035.40" width="3.80" height="15.40" fill="#000"/>
<rect x="1535.12" y="1035.40" width="3.80" height="15.40" fill="#000"/>
<rect x="1620.05" y="1035.40" width="3.80" height="15.40" fill="#000"/>
<rect x="1704.97" y="1035.40" width="3.80" height="15.40" fill="#000"/>
<rect x="1789.90" y="1035.40" width="3.80" height="15.40" fill="#000"/>
<rect x="1492.71" y="1035.40" width="3.70" height="8.60" fill="#000"/>
<rect x="1577.64" y="1035.40" width="3.70" height="8.60" fill="#000"/>
<rect x="1662.56" y="1035.40" width="3.70" height="8.60" fill="#000"/>
<rect x="1747.49" y="1035.40" width="3.70" height="8.60" fill="#000"/>
<text transform="translate(1431.55,1089.97) scale(0.6459,1)" font-size="38.28" stroke="#000" stroke-width="0.70">200</text>
<text transform="translate(1516.77,1089.97) scale(0.6412,1)" font-size="38.28" stroke="#000" stroke-width="0.70">300</text>
<text transform="translate(1601.89,1089.97) scale(0.6381,1)" font-size="38.28" stroke="#000" stroke-width="0.70">400</text>
<text transform="translate(1686.43,1089.97) scale(0.6444,1)" font-size="38.28" stroke="#000" stroke-width="0.70">500</text>
<text transform="translate(1771.20,1089.97) scale(0.6467,1)" font-size="38.28" stroke="#000" stroke-width="0.70">600</text>
<text transform="translate(1337.49,708.77) scale(0.6208,1)" font-size="38.28" word-spacing="3.828" stroke="#000" stroke-width="0.70"><tspan>2.0 </tspan><tspan stroke-width="2.1" font-size="32.15" dy="-2.11">×</tspan><tspan dy="2.11"> 10</tspan></text>
<text transform="translate(1430.84,696.82) scale(0.6178,1)" font-size="24.07" stroke="#000" stroke-width="0.56">4</text>
<text transform="translate(1337.49,793.27) scale(0.6208,1)" font-size="38.28" word-spacing="3.828" stroke="#000" stroke-width="0.70"><tspan>1.5 </tspan><tspan stroke-width="2.1" font-size="32.15" dy="-2.11">×</tspan><tspan dy="2.11"> 10</tspan></text>
<text transform="translate(1430.84,781.95) scale(0.6178,1)" font-size="24.07" stroke="#000" stroke-width="0.56">4</text>
<text transform="translate(1337.49,877.47) scale(0.6208,1)" font-size="38.28" word-spacing="3.828" stroke="#000" stroke-width="0.70"><tspan>1.0 </tspan><tspan stroke-width="2.1" font-size="32.15" dy="-2.11">×</tspan><tspan dy="2.11"> 10</tspan></text>
<text transform="translate(1430.84,867.07) scale(0.6178,1)" font-size="24.07" stroke="#000" stroke-width="0.56">4</text>
<text transform="translate(1337.49,962.77) scale(0.6208,1)" font-size="38.28" word-spacing="3.828" stroke="#000" stroke-width="0.70"><tspan>5.0 </tspan><tspan stroke-width="2.1" font-size="32.15" dy="-2.11">×</tspan><tspan dy="2.11"> 10</tspan></text>
<text transform="translate(1430.70,952.20) scale(0.6657,1)" font-size="24.07" stroke="#000" stroke-width="0.56">3</text>
<text transform="translate(1424.09,1048.27) scale(0.6087,1)" font-size="38.28" stroke="#000" stroke-width="0.70">0</text>
<text transform="translate(1554.42,1133.45) scale(0.6507,1)" font-size="43.46" stroke="#000" stroke-width="0.70">Mean (pN)</text>
<text transform="translate(1514.41,655.55) scale(0.6625,1)" font-size="42.88" stroke="#000" stroke-width="0.70">Radotinib + 20mV/mm</text>
<text transform="translate(1466.68,720.25) scale(0.6467,1)" font-size="38.81" stroke="#000" stroke-width="0.70">Y = 37.66*X − 3888</text>
<text transform="translate(1466.45,761.25) scale(0.6396,1)" font-size="38.81" stroke="#000" stroke-width="0.70"><tspan>R</tspan><tspan font-size="27.94" dy="-16.69">2</tspan><tspan dy="16.69"> = 0.9786 </tspan><tspan font-style="italic">P</tspan><tspan>&lt;0.0001</tspan></text>
<text transform="translate(1322.40,989.60) rotate(-90) scale(1.3600,1)" font-size="29.07" letter-spacing="1.054" stroke="#000" stroke-width="0.50"><tspan>variancn (pN</tspan><tspan font-size="19.77" dy="-10.47">2</tspan><tspan dy="10.47">)</tspan></text>
</g>
</svg>
</body></html>
